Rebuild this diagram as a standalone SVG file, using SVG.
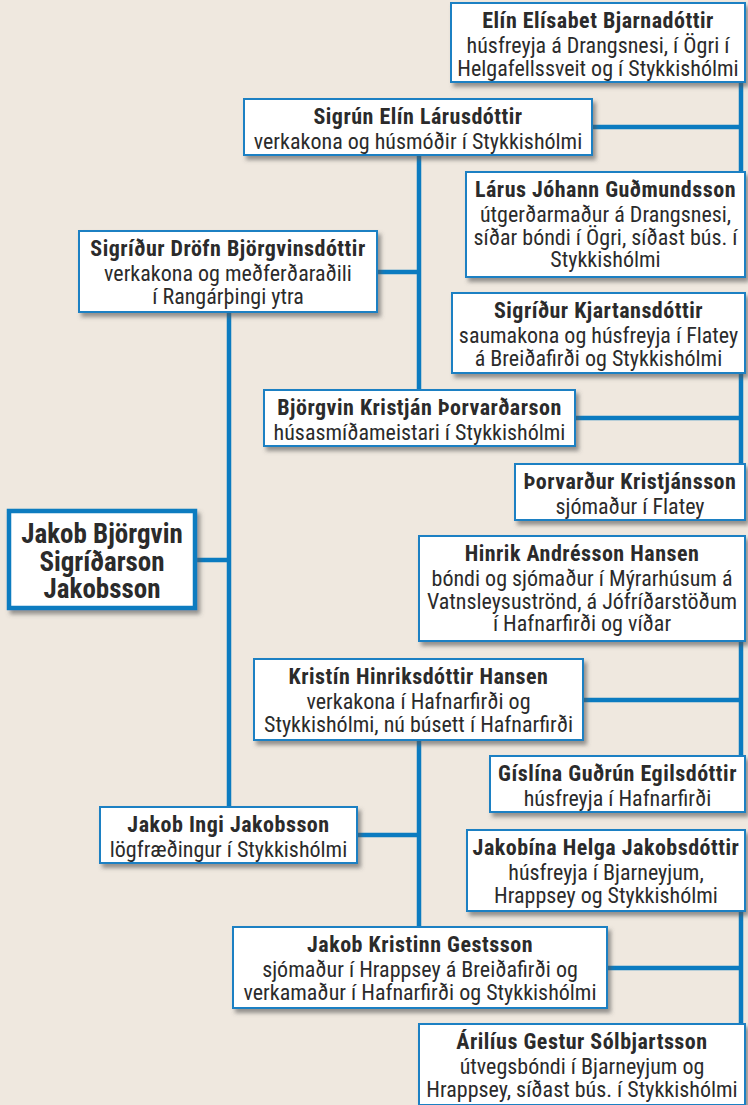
<svg xmlns="http://www.w3.org/2000/svg" width="748" height="1105" viewBox="0 0 748 1105">
<defs>
<filter id="sh" x="-10%" y="-10%" width="130%" height="140%">
<feDropShadow dx="3" dy="4" stdDeviation="2" flood-color="#555" flood-opacity="0.6"/>
</filter>
<style>
.bg{fill:#efe8df}
.box{fill:#fff;stroke:#1c80c3;stroke-width:2;filter:url(#sh)}
.root{fill:#fff;stroke:#0b7bc0;stroke-width:4.5;filter:url(#sh)}
.c{fill:none;stroke:#0b7bc0;stroke-width:4.5}
text{font-family:"Liberation Sans Narrow","Roboto Condensed","Liberation Sans",sans-serif;font-size:22px;fill:#2b2b2b;text-anchor:middle}
.n{font-weight:bold;letter-spacing:0.5px}
.rt{font-weight:bold;font-size:27px}
</style>
</defs>
<rect class="bg" x="0" y="0" width="748" height="1105"/>
<g id="connectors">
<path class="c" d="M197 560H229M229 313V806M378 272H419M419 156V389M593 127H741M741 83V171M576 418H741M741 374V463M584 700H741M741 642V755M419 741V926M358 835H419M608 968H741M741 912V1023"/>
</g>
<g id="elin-elisabet">
<rect class="box" x="451" y="3" width="294" height="79"/>
<text x="598" y="28" class="n">Elín Elísabet Bjarnadóttir</text>
<text x="598" y="53">húsfreyja á Drangsnesi, í Ögri í</text>
<text x="598" y="75.5">Helgafellssveit og í Stykkishólmi</text>
</g>
<g id="sigrun-elin">
<rect class="box" x="244" y="99" width="348" height="56"/>
<text x="418" y="124" class="n">Sigrún Elín Lárusdóttir</text>
<text x="418" y="149">verkakona og húsmóðir í Stykkishólmi</text>
</g>
<g id="larus">
<rect class="box" x="466" y="172" width="279" height="105"/>
<text x="605.5" y="197" class="n">Lárus Jóhann Guðmundsson</text>
<text x="605.5" y="222">útgerðarmaður á Drangsnesi,</text>
<text x="605.5" y="244.5">síðar bóndi í Ögri, síðast bús. í</text>
<text x="605.5" y="267">Stykkishólmi</text>
</g>
<g id="sigridur-drofn">
<rect class="box" x="79" y="231" width="298" height="81"/>
<text x="228" y="256" class="n">Sigríður Dröfn Björgvinsdóttir</text>
<text x="228" y="281">verkakona og meðferðaraðili</text>
<text x="228" y="303.5">í Rangárþingi ytra</text>
</g>
<g id="sigridur-kjartansdottir">
<rect class="box" x="452" y="293" width="293" height="80"/>
<text x="598.5" y="318" class="n">Sigríður Kjartansdóttir</text>
<text x="598.5" y="343">saumakona og húsfreyja í Flatey</text>
<text x="598.5" y="365.5">á Breiðafirði og Stykkishólmi</text>
</g>
<g id="bjorgvin">
<rect class="box" x="264" y="390" width="311" height="56"/>
<text x="419.5" y="415" class="n">Björgvin Kristján Þorvarðarson</text>
<text x="419.5" y="440">húsasmíðameistari í Stykkishólmi</text>
</g>
<g id="thorvardur">
<rect class="box" x="515" y="464" width="230" height="56"/>
<text x="630" y="489" class="n">Þorvarður Kristjánsson</text>
<text x="630" y="514">sjómaður í Flatey</text>
</g>
<g id="jakob-bjorgvin">
<rect class="root" x="9" y="511" width="186" height="97"/>
<text x="102" y="543" class="rt">Jakob Björgvin</text>
<text x="102" y="571" class="rt">Sigríðarson</text>
<text x="102" y="598" class="rt">Jakobsson</text>
</g>
<g id="hinrik">
<rect class="box" x="419" y="536" width="326" height="105"/>
<text x="582" y="561" class="n">Hinrik Andrésson Hansen</text>
<text x="582" y="586">bóndi og sjómaður í Mýrarhúsum á</text>
<text x="582" y="608.5">Vatnsleysuströnd, á Jófríðarstöðum</text>
<text x="582" y="631">í Hafnarfirði og víðar</text>
</g>
<g id="kristin">
<rect class="box" x="254" y="659" width="329" height="81"/>
<text x="418.5" y="684" class="n">Kristín Hinriksdóttir Hansen</text>
<text x="418.5" y="709">verkakona í Hafnarfirði og</text>
<text x="418.5" y="731.5">Stykkishólmi, nú búsett í Hafnarfirði</text>
</g>
<g id="gislina">
<rect class="box" x="490" y="756" width="255" height="56"/>
<text x="617.5" y="781" class="n">Gíslína Guðrún Egilsdóttir</text>
<text x="617.5" y="806">húsfreyja í Hafnarfirði</text>
</g>
<g id="jakob-ingi">
<rect class="box" x="100" y="807" width="257" height="56"/>
<text x="228.5" y="832" class="n">Jakob Ingi Jakobsson</text>
<text x="228.5" y="857">lögfræðingur í Stykkishólmi</text>
</g>
<g id="jakobina">
<rect class="box" x="467" y="830" width="278" height="81"/>
<text x="606" y="855" class="n">Jakobína Helga Jakobsdóttir</text>
<text x="606" y="880">húsfreyja í Bjarneyjum,</text>
<text x="606" y="902.5">Hrappsey og Stykkishólmi</text>
</g>
<g id="jakob-kristinn">
<rect class="box" x="233" y="927" width="374" height="81"/>
<text x="420" y="952" class="n">Jakob Kristinn Gestsson</text>
<text x="420" y="977">sjómaður í Hrappsey á Breiðafirði og</text>
<text x="420" y="999.5">verkamaður í Hafnarfirði og Stykkishólmi</text>
</g>
<g id="arilius">
<rect class="box" x="419" y="1024" width="326" height="81"/>
<text x="582" y="1049" class="n">Árilíus Gestur Sólbjartsson</text>
<text x="582" y="1074">útvegsbóndi í Bjarneyjum og</text>
<text x="582" y="1096.5">Hrappsey, síðast bús. í Stykkishólmi</text>
</g>
</svg>
